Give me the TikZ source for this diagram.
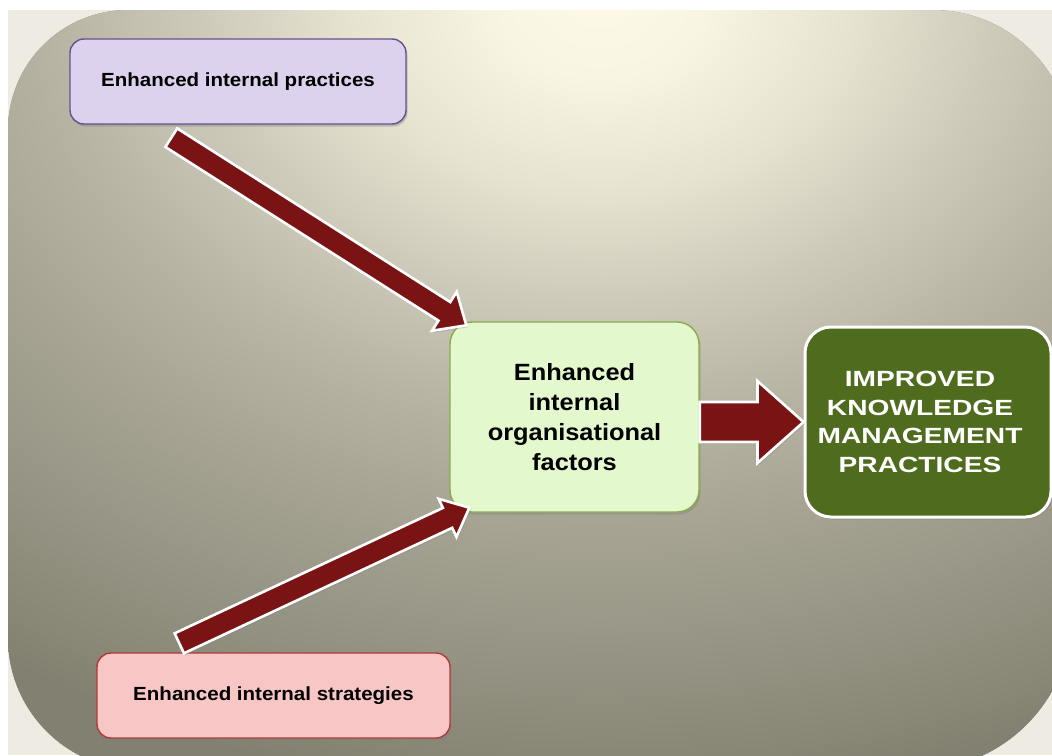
\documentclass[tikz,border=0pt]{standalone}
\usepackage{fontspec}
\setmainfont{Liberation Sans}
\newfontfamily\boxfont[FakeStretch=1.08]{Liberation Sans}
\newfontfamily\kmfont[FakeStretch=1.28]{Liberation Sans}
\usetikzlibrary{calc,shadows}

% colours
\definecolor{outercream}{HTML}{EEECE2}
\definecolor{bg0}{HTML}{FDF9E6}
\definecolor{bg1}{HTML}{F8F5E2}
\definecolor{bg2}{HTML}{E6E3D1}
\definecolor{bg3}{HTML}{CDCAB9}
\definecolor{bg4}{HTML}{B7B4A4}
\definecolor{bg5}{HTML}{A6A393}
\definecolor{bg6}{HTML}{979585}
\definecolor{bg7}{HTML}{888675}
\definecolor{bg8}{HTML}{828070}
\definecolor{pracfill}{HTML}{DCD2EE}
\definecolor{pracedge}{HTML}{6B4E8F}
\definecolor{stratfill}{HTML}{F9C6C6}
\definecolor{stratedge}{HTML}{B03A3A}
\definecolor{facfill}{HTML}{E3F8CC}
\definecolor{facedge}{HTML}{87AC4A}
\definecolor{kmfill}{HTML}{4F6B1E}
\definecolor{arrowred}{HTML}{7A1414}

% soft elliptical glow behind everything (25bp = half the shaded box)
\pgfdeclareradialshading{bgshade}{\pgfpoint{0bp}{0bp}}{%
  color(0bp)=(bg0); color(2.4bp)=(bg1); color(5.95bp)=(bg2);
  color(9.5bp)=(bg3); color(13.05bp)=(bg4); color(16.65bp)=(bg5);
  color(20.2bp)=(bg6); color(23.75bp)=(bg7); color(25bp)=(bg8); color(50bp)=(bg8)}

% block arrow: #1 tail, #2 tip, #3 shaft half width, #4 head half width, #5 head length
\newcommand\blockarrow[5]{%
  \coordinate (ba-base) at ($(#2)!#5!(#1)$);
  \path[fatarrow]
    ($(#1)!#3!90:(#2)$) -- ($(ba-base)!#3!90:(#2)$) -- ($(ba-base)!#4!90:(#2)$)
    -- (#2)
    -- ($(ba-base)!#4!-90:(#2)$) -- ($(ba-base)!#3!-90:(#2)$) -- ($(#1)!#3!-90:(#2)$)
    -- cycle;
}

\tikzset{
  boxbase/.style={rectangle, rounded corners=14pt, line width=1.4pt, align=center,
    inner sep=0pt, drop shadow={shadow xshift=1.5pt, shadow yshift=-2.5pt, opacity=0.4}},
  smallbox/.style={boxbase, minimum height=85pt,
    font=\boxfont\bfseries\fontsize{19}{23}\selectfont},
  fatarrow/.style={fill=arrowred, draw=white, line width=2.6pt, line join=miter,
    drop shadow={shadow xshift=1.5pt, shadow yshift=-2pt, opacity=0.3}},
}

\begin{document}
\begin{tikzpicture}[x=1pt, y=-1pt]
  \clip (0,0) rectangle (1052,755);
  \fill[white] (0,0) rectangle (1052,755);
  \fill[outercream] (8,10) rectangle (1052,755);

  % rounded backdrop
  \begin{scope}
    \clip (128,10) -- (933,10) arc[start angle=-90, end angle=0, radius=139]
      -- (1072,615) arc[start angle=0, end angle=90, radius=155]
      -- (140,770) arc[start angle=90, end angle=180, radius=132]
      -- (8,130) arc[start angle=180, end angle=270, radius=120] -- cycle;
    \fill[bg8] (0,0) rectangle (1100,800);
    \shade[shading=bgshade] (-450,-800) rectangle (1650,800);
  \end{scope}

  % boxes
  \node[smallbox, draw=pracedge, fill=pracfill, minimum width=336pt]
    (prac) at (238,81.5) {Enhanced internal practices};
  \node[smallbox, draw=stratedge, fill=stratfill, minimum width=353pt]
    (strat) at (273.5,695.5) {Enhanced internal strategies};
  \node[boxbase, rounded corners=22pt, draw=facedge, fill=facfill,
    minimum width=249pt, minimum height=190pt,
    font=\boxfont\bfseries\fontsize{23.5}{30}\selectfont]
    (fac) at (574.5,417) {Enhanced\\internal\\organisational\\factors};
  \node[boxbase, rounded corners=26pt, draw=white, line width=3pt, fill=kmfill,
    minimum width=246pt, minimum height=190pt]
    (km) at (928,422) {};
  \node[align=center, inner sep=0pt, text=white,
    font=\kmfont\bfseries\fontsize{22}{28.5}\selectfont]
    (kmtext) at ($(km.center)+(-8,0)$) {IMPROVED\\KNOWLEDGE\\MANAGEMENT\\PRACTICES};

  % arrow end points
  \coordinate (a1t) at ($(prac.south west)+(102,13)$);
  \coordinate (a1h) at ($(fac.north west)+(17,4)$);
  \coordinate (a2t) at ($(strat.north west)+(83,-9)$);
  \coordinate (a2h) at ($(fac.south west)+(20,-5)$);
  \coordinate (a3t) at (fac.east |- km.west);
  \coordinate (a3h) at (km.west);

  % arrows
  \blockarrow{a1t}{a1h}{11pt}{23pt}{26pt}
  \blockarrow{a2t}{a2h}{11pt}{21pt}{24pt}
  \blockarrow{a3t}{a3h}{20pt}{41pt}{46pt}
\end{tikzpicture}
\end{document}
